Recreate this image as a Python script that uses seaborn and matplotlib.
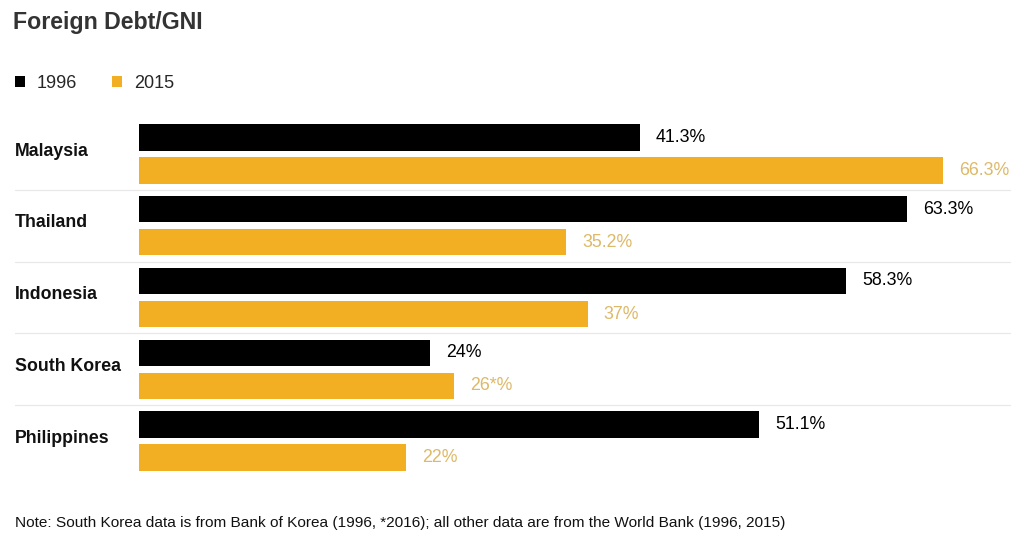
import numpy as np
import pandas as pd
import matplotlib
matplotlib.use("Agg")
import matplotlib.pyplot as plt
from matplotlib import transforms
from matplotlib.lines import Line2D
import seaborn as sns

# data
countries = ["Malaysia", "Thailand", "Indonesia", "South Korea", "Philippines"]
debt_1996 = [41.3, 63.3, 58.3, 24.0, 51.1]
debt_2015 = [66.3, 35.2, 37.0, 26.0, 22.0]
labels_1996 = ["41.3%", "63.3%", "58.3%", "24%", "51.1%"]
labels_2015 = ["66.3%", "35.2%", "37%", "26*%", "22%"]
years = ["1996", "2015"]

black = "#000000"
gold = "#F2AF24"
gold_text = "#DDB968"

df = pd.DataFrame({
    "country": countries * 2,
    "value": debt_1996 + debt_2015,
    "year": [years[0]] * len(countries) + [years[1]] * len(countries),
})

sns.set_style("white")
plt.rcParams["font.family"] = ["Liberation Sans", "DejaVu Sans"]

fig = plt.figure(figsize=(10.36, 5.45), dpi=100)
fig.patch.set_facecolor("white")
ax = fig.add_axes([139 / 1036, 1 - 476.9 / 545, 897 / 1036, 358.8 / 545])

sns.barplot(data=df, y="country", x="value", hue="year", hue_order=years,
            order=countries, palette=[black, gold], saturation=1,
            width=0.92, gap=0.21, linewidth=0, orient="h", ax=ax)

ax.set_xlim(0, 897 / 12.13)
ax.set_ylim(4.5, -0.5)
ax.set_xlabel("")
ax.set_ylabel("")
ax.set_xticks([])
ax.set_yticks([])
for s in ax.spines.values():
    s.set_visible(False)

# value labels at the bar ends
for cont, labs, col in zip(ax.containers, [labels_1996, labels_2015], [black, gold_text]):
    ax.bar_label(cont, labels=labs, padding=11.5, fontsize=12.8, color=col)

# country names on the left
trans = transforms.blended_transform_factory(fig.transFigure, ax.transData)
for i, c in enumerate(countries):
    ax.text(15 / 1036, i - 0.04, c, transform=trans, ha="left", va="center",
            fontsize=12.8, fontweight="bold", color="#111111")

# thin separators between groups
for i in range(len(countries) - 1):
    fig.add_artist(Line2D([15 / 1036, 1010 / 1036], [i + 0.5, i + 0.5],
                          transform=trans, color="#e8e8e8", lw=0.9))

# legend up top
handles, labs = ax.get_legend_handles_labels()
ax.get_legend().remove()
fig.legend(handles, labs, loc="center left", bbox_to_anchor=(15 / 1036, 1 - 83 / 545),
           ncol=2, frameon=False, fontsize=13, handlelength=0.55, handleheight=0.55,
           handletextpad=0.66, columnspacing=1.95, borderpad=0, borderaxespad=0)

fig.text(13 / 1036, 1 - 22 / 545, "Foreign Debt/GNI", ha="left", va="center",
         fontsize=16.7, fontweight="bold", color="#333333")
fig.text(15 / 1036, 1 - 523 / 545,
         "Note: South Korea data is from Bank of Korea (1996, *2016); all other data are from the World Bank (1996, 2015)",
         ha="left", va="center", fontsize=11.1, color="#111111")

fig.savefig("out.png", dpi=100, facecolor="white")
